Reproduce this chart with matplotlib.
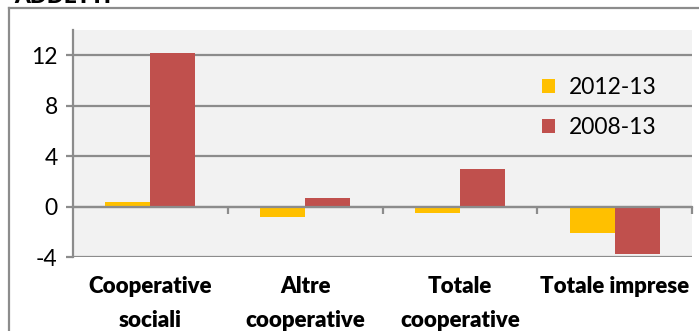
import matplotlib
matplotlib.use("Agg")
import matplotlib.pyplot as plt
from matplotlib.lines import Line2D
import numpy as np

categories = ["Cooperative\nsociali", "Altre\ncooperative", "Totale\ncooperative", "Totale imprese"]
series_names = ["2012-13", "2008-13"]
v_2012_13 = [0.4, -0.8, -0.5, -2.1]
v_2008_13 = [12.2, 0.7, 3.0, -3.8]
yticks = [-4, 0, 4, 8, 12]
colors = ["#FFC000", "#C0504D"]

plt.rcParams['font.family'] = ['Lato', 'DejaVu Sans']
grid_c = "#8C8C8C"

fig = plt.figure(figsize=(6.99, 3.31), dpi=100)
W, H = 699, 331
ax = fig.add_axes([73 / W, 1 - 257 / H, (692 - 73) / W, (257 - 30) / H])
ax.set_facecolor("#F2F2F2")

x = np.arange(len(categories))
w = 0.29
ax.bar(x - w / 2, v_2012_13, w, color=colors[0], label=series_names[0], zorder=3)
ax.bar(x + w / 2, v_2008_13, w, color=colors[1], label=series_names[1], zorder=3)

ax.set_xlim(-0.5, len(categories) - 0.5)
ax.set_ylim(-4, 14)
ax.set_yticks(yticks)
ax.set_yticklabels([str(t) for t in yticks], fontsize=16.5)
for t in yticks:
    ax.axhline(t, color=grid_c, lw=1.6, zorder=1)

for s in ["top", "right"]:
    ax.spines[s].set_visible(False)
ax.spines["left"].set_color(grid_c)
ax.spines["left"].set_linewidth(1.6)
ax.spines["bottom"].set_position(("data", 0))
ax.spines["bottom"].set_color(grid_c)
ax.spines["bottom"].set_linewidth(1.6)
ax.spines["bottom"].set_zorder(4)
ax.set_xticks(np.arange(0.5, len(categories), 1.0))
ax.set_xticklabels([])
ax.tick_params(axis="x", length=5, width=1.6, color=grid_c, direction="out")
ax.tick_params(axis="y", length=5, width=1.6, color=grid_c, direction="out", pad=6)

for i, c in enumerate(categories):
    ax.text(i, -0.085, c, transform=ax.get_xaxis_transform(), ha="center", va="top",
            fontsize=16, fontweight="heavy", linespacing=1.75)

leg = ax.legend(loc="upper left", bbox_to_anchor=(0.725, 0.885), frameon=False,
                fontsize=16.5, handlelength=0.55, handleheight=0.55, handletextpad=0.6,
                labelspacing=0.85)

# outer chart border (left and top visible)
fig.add_artist(Line2D([9 / W, 9 / W], [0, 1 - 8 / H], color=grid_c, lw=1.6))
fig.add_artist(Line2D([9 / W, 1], [1 - 8 / H, 1 - 8 / H], color=grid_c, lw=1.6))
fig.text(14 / W, 1 - 3 / H, "ADDETTI", fontsize=16, fontweight="heavy", va="baseline")

fig.savefig("out.png", dpi=100)
